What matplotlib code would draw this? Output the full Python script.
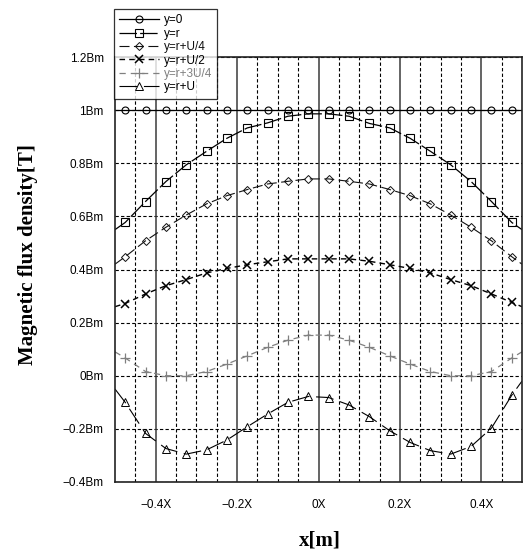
import matplotlib
matplotlib.use("Agg")
import matplotlib.pyplot as plt
from matplotlib.ticker import FixedLocator

# positions along x (edges of the span plus the sampled points)
x_pos = [-0.5, -0.475, -0.425, -0.375, -0.325, -0.275, -0.225, -0.175, -0.125,
         -0.075, -0.025, 0.025, 0.075, 0.125, 0.175, 0.225, 0.275, 0.325,
         0.375, 0.425, 0.475, 0.5]

b_y0 = [1.0] * 22
b_r = [0.55, 0.577, 0.656, 0.731, 0.794, 0.845, 0.894, 0.933, 0.952, 0.977, 0.986,
       0.986, 0.977, 0.950, 0.933, 0.894, 0.845, 0.794, 0.731, 0.656, 0.577, 0.55]
b_r_u4 = [0.42, 0.448, 0.508, 0.559, 0.605, 0.647, 0.678, 0.701, 0.722, 0.732, 0.741,
          0.741, 0.732, 0.722, 0.701, 0.678, 0.647, 0.605, 0.559, 0.508, 0.448, 0.42]
b_r_u2 = [0.26, 0.272, 0.308, 0.339, 0.362, 0.387, 0.404, 0.418, 0.429, 0.440, 0.440,
          0.440, 0.440, 0.431, 0.418, 0.404, 0.387, 0.362, 0.339, 0.308, 0.276, 0.26]
b_r_3u4 = [0.09, 0.067, 0.016, 0.0, 0.0, 0.016, 0.044, 0.075, 0.107, 0.134, 0.153,
           0.153, 0.134, 0.107, 0.075, 0.044, 0.016, 0.0, 0.0, 0.016, 0.067, 0.09]
b_r_u = [-0.05, -0.100, -0.217, -0.274, -0.295, -0.279, -0.242, -0.192, -0.144, -0.100,
         -0.078, -0.082, -0.110, -0.154, -0.207, -0.251, -0.282, -0.295, -0.266,
         -0.197, -0.073, -0.02]

series_labels = ["y=0", "y=r", "y=r+U/4", "y=r+U/2", "y=r+3U/4", "y=r+U"]

y_ticks = [-0.4, -0.2, 0.0, 0.2, 0.4, 0.6, 0.8, 1.0, 1.2]
y_ticklabels = ["\u22120.4Bm", "\u22120.2Bm", "0Bm", "0.2Bm", "0.4Bm", "0.6Bm",
                "0.8Bm", "1Bm", "1.2Bm"]
x_ticks = [-0.4, -0.2, 0.0, 0.2, 0.4]
x_ticklabels = ["\u22120.4X", "\u22120.2X", "0X", "0.2X", "0.4X"]
x_minor = [-0.45, -0.35, -0.3, -0.25, -0.15, -0.1, -0.05, 0.05, 0.1, 0.15,
           0.25, 0.3, 0.35, 0.45]

plt.rcParams["font.family"] = ["Liberation Sans", "DejaVu Sans"]

W, H = 524, 555
fig = plt.figure(figsize=(W / 100, H / 100), dpi=100)
ax = fig.add_axes([115 / W, 1 - 482 / H, (522 - 115) / W, (482 - 57) / H])
ax.set_xlim(-0.5, 0.5)
ax.set_ylim(-0.4, 1.2)

# grid: dashed horizontals, dashed minor verticals, solid major verticals
for yv in y_ticks:
    ax.axhline(yv, color="black", lw=0.8, ls=(0, (3, 2)), zorder=1)
for xv in x_minor:
    ax.axvline(xv, color="black", lw=0.8, ls=(0, (3, 2)), zorder=1)
for xv in x_ticks:
    ax.axvline(xv, color="#3a3a3a", lw=1.1, zorder=1)

mk = dict(markevery=list(range(1, 21)), markerfacecolor="none", zorder=3)
ax.plot(x_pos, b_y0, color="black", lw=0.9, marker="o", ms=5,
        markeredgewidth=0.8, label=series_labels[0], **mk)
ax.plot(x_pos, b_r, color="black", lw=0.9, ls=(0, (14, 2.5)), marker="s", ms=5.5,
        markeredgewidth=0.8, label=series_labels[1], **mk)
ax.plot(x_pos, b_r_u4, color="#111111", lw=0.8, ls=(0, (9, 4)), marker="D", ms=3.8,
        markeredgewidth=0.7, label=series_labels[2], **mk)
ax.plot(x_pos, b_r_u2, color="black", lw=1.0, ls=(0, (4, 3)), marker="x", ms=5.5,
        markeredgewidth=1.1, label=series_labels[3], **mk)
ax.plot(x_pos, b_r_3u4, color="#808080", lw=0.9, ls=(0, (5, 4)), marker="+", ms=6.5,
        markeredgewidth=0.9, label=series_labels[4], **mk)
ax.plot(x_pos, b_r_u, color="black", lw=0.8, ls=(0, (16, 6)), marker="^", ms=5.5,
        markeredgewidth=0.7, label=series_labels[5], **mk)

ax.yaxis.set_major_locator(FixedLocator(y_ticks))
ax.set_yticklabels(y_ticklabels)
ax.xaxis.set_major_locator(FixedLocator(x_ticks))
ax.set_xticklabels(x_ticklabels)
ax.tick_params(axis="both", length=0, labelsize=8.5)
ax.tick_params(axis="y", pad=8)
ax.tick_params(axis="x", pad=12)

for sp in ax.spines.values():
    sp.set_color("#222222")
    sp.set_linewidth(1.2)
    sp.set_zorder(4)

serif_bold = dict(family=["Liberation Serif", "DejaVu Serif"], weight="bold", size=15)
fig.text(28 / W, 1 - 255 / H, "Magnetic flux density[T]", rotation=90,
         ha="center", va="center", **serif_bold)
fig.text(320 / W, 1 - 541 / H, "x[m]", ha="center", va="center", **serif_bold)

leg = fig.legend(loc="upper left", bbox_to_anchor=(114 / W, 1 - 9 / H),
                 borderaxespad=0, frameon=True, fancybox=False, fontsize=8.5,
                 handlelength=3.4, handletextpad=0.35, labelspacing=0.12,
                 borderpad=0.45)
leg.get_frame().set_edgecolor("black")
leg.get_frame().set_linewidth(0.9)
leg.set_zorder(10)
for txt, line in zip(leg.get_texts(), leg.get_lines()):
    txt.set_color(line.get_color())

fig.savefig("out.png", dpi=100)
